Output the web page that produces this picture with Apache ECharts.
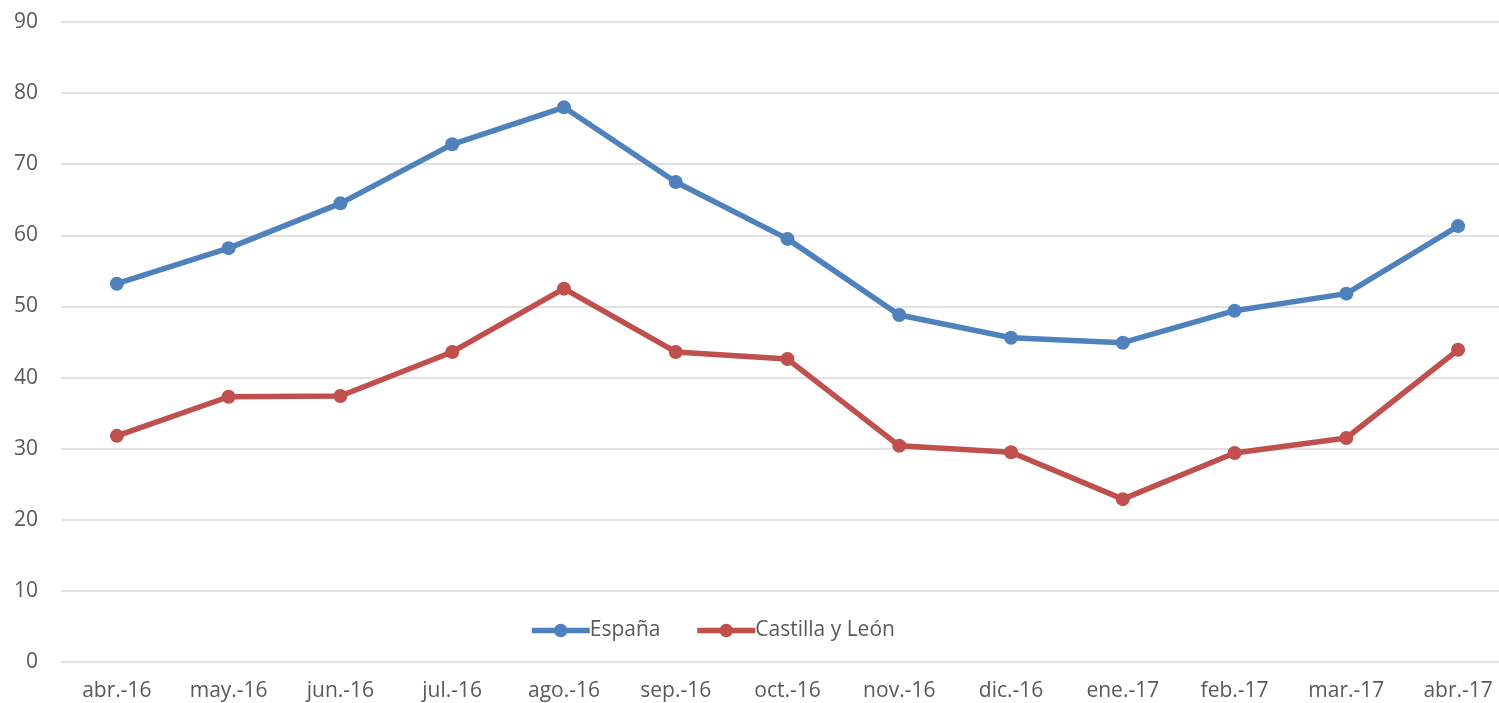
<!DOCTYPE html>
<html>
<head>
<meta charset="utf-8">
<script src="https://cdn.jsdelivr.net/npm/echarts@6/dist/echarts.min.js"></script>
<style>
  html, body { margin: 0; padding: 0; background: #fff; overflow: hidden; }
  #chart { width: 1520px; height: 703px; }
</style>
</head>
<body>
<div id="chart"></div>
<script>
const months = ['abr.-16', 'may.-16', 'jun.-16', 'jul.-16', 'ago.-16', 'sep.-16', 'oct.-16',
  'nov.-16', 'dic.-16', 'ene.-17', 'feb.-17', 'mar.-17', 'abr.-17'];
const espana = [53.2, 58.2, 64.5, 72.8, 78.0, 67.5, 59.5, 48.8, 45.6, 44.9, 49.4, 51.8, 61.3];
const castillaLeon = [31.8, 37.3, 37.4, 43.6, 52.5, 43.6, 42.6, 30.4, 29.5, 22.9, 29.4, 31.5, 43.9];

const chart = echarts.init(document.getElementById('chart'));
const textColor = '#595959';
const font = 'Open Sans, Noto Sans, sans-serif';

const option = {
  animation: false,
  textStyle: { fontFamily: font },
  grid: { left: 61, top: 22, width: 1453, height: 640, containLabel: false },
  legend: {
    left: 524, top: 615,
    itemWidth: 58, itemHeight: 17, itemGap: 34,
    lineStyle: { width: 5.5 },
    textStyle: { color: textColor, fontSize: 21, fontFamily: font, padding: [0, 0, 0, -5] },
    data: ['España', 'Castilla y León']
  },
  xAxis: {
    type: 'category',
    data: months,
    boundaryGap: true,
    axisLine: { show: false },
    axisTick: { show: false },
    axisLabel: { color: textColor, fontSize: 21, margin: 19, interval: 0 }
  },
  yAxis: {
    type: 'value',
    min: 0, max: 90, interval: 10,
    axisLine: { show: false },
    axisTick: { show: false },
    axisLabel: { color: textColor, fontSize: 21, margin: 23 },
    splitLine: { lineStyle: { color: '#d9d9d9', width: 1.5 } }
  },
  series: [
    {
      name: 'España', type: 'line', data: espana,
      symbol: 'circle', symbolSize: 14,
      itemStyle: { color: '#4f81bd' },
      lineStyle: { color: '#4f81bd', width: 5.5 }
    },
    {
      name: 'Castilla y León', type: 'line', data: castillaLeon,
      symbol: 'circle', symbolSize: 14,
      itemStyle: { color: '#c0504d' },
      lineStyle: { color: '#c0504d', width: 5.5 }
    }
  ]
};
chart.setOption(option);
</script>
</body>
</html>
